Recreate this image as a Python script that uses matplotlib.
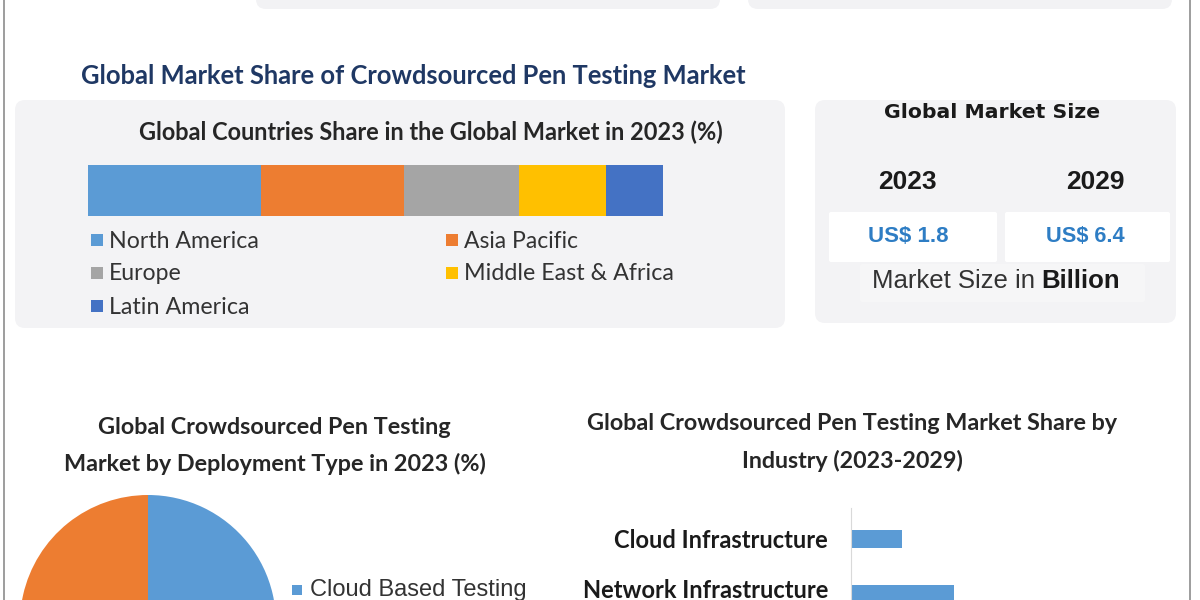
import matplotlib
matplotlib.use("Agg")
import matplotlib.pyplot as plt
import matplotlib.transforms as mtrans
from matplotlib.patches import FancyBboxPatch, Rectangle

W, H = 1200, 600

# data
regions = ["North America", "Asia Pacific", "Europe", "Middle East & Africa", "Latin America"]
region_share = [30, 25, 20, 15, 10]
region_colors = ["#5b9bd5", "#ed7d31", "#a5a5a5", "#ffc000", "#4472c4"]

years = ["2023", "2029"]
market_size = [1.8, 6.4]

deploy_types = ["Cloud Based Testing", "On-Premise Testing"]
deploy_share = [57, 43]
deploy_colors = ["#5b9bd5", "#ed7d31"]

industries = ["Cloud Infrastructure", "Network Infrastructure"]
industry_share = [5, 10]

calib = ["Lato", "DejaVu Sans"]
arial = ["Liberation Sans", "DejaVu Sans"]

fig = plt.figure(figsize=(12, 6), dpi=100)
fig.patch.set_facecolor("white")
ax = fig.add_axes([0, 0, 1, 1])
ax.set_xlim(0, W)
ax.set_ylim(H, 0)
ax.axis("off")
renderer = fig.canvas.get_renderer()


def px_axes(x0, y0, x1, y1):
    return fig.add_axes([x0 / W, 1 - y1 / H, (x1 - x0) / W, (y1 - y0) / H])


def put(x0, x1, cy, s, size=14, family=calib, weight="bold", color="#262626", ha="center"):
    x = (x0 + x1) / 2 if ha == "center" else x0
    t = ax.text(x, cy, s, fontsize=size, family=family, weight=weight, color=color,
                ha=ha, va="center")
    bb = t.get_window_extent(renderer)
    t.set_fontsize(size * (x1 - x0) / bb.width)
    return t


def box(x0, y0, x1, y1, fc, r=10):
    ax.add_patch(FancyBboxPatch((x0, y0), x1 - x0, y1 - y0,
                                boxstyle="round,pad=0,rounding_size=%d" % r,
                                fc=fc, ec="none", zorder=0))


# frame lines and clipped boxes at top
ax.plot([4, 4], [0, H], color="#8c8c8c", lw=1.2)
ax.plot([1190, 1190], [0, H], color="#8c8c8c", lw=1.2)
box(256, -20, 720, 9, "#f2f2f4")
box(748, -20, 1172, 9, "#f2f2f4")

# main title
put(78, 748, 76, "Global Market Share of Crowdsourced Pen Testing Market", color="#1f3864")

# left panel: regions
box(15, 100, 785, 328, "#f3f3f5")
put(136, 725, 132, "Global Countries Share in the Global Market in 2023 (%)")

bar_ax = px_axes(88, 165, 663, 216)
left = 0
for v, c in zip(region_share, region_colors):
    bar_ax.barh(0, v, left=left, height=1, color=c, edgecolor="none")
    left += v
bar_ax.set_xlim(0, sum(region_share))
bar_ax.set_ylim(-0.5, 0.5)
bar_ax.axis("off")

leg_pos = [(109, 259, 240), (464, 579, 240), (109, 182, 273), (464, 674, 273), (109, 250, 306)]
for name, c, (x0, x1, cy) in zip(regions, region_colors, leg_pos):
    ax.add_patch(Rectangle((x0 - 18, cy - 6), 12, 12, fc=c, ec="none"))
    put(x0, x1, cy + 1, name, weight="normal", color="#333333", ha="left")

# right panel: market size
box(815, 100, 1176, 323, "#f3f3f5")
put(884, 1100, 113, "Global Market Size", family=["DejaVu Sans"], color="#1a1a1a")
box(829, 212, 997, 262, "white", r=2)
box(1005, 212, 1170, 262, "white", r=2)
box(860, 264, 1145, 302, "#f6f6f7", r=2)
year_x = [907, 1095]
val_pos = [(868, 949), (1046, 1125)]
for y, v, x, (c, d) in zip(years, market_size, year_x, val_pos):
    ax.text(x, 182, y, fontsize=19, family=arial, weight="bold", color="#1a1a1a",
            ha="center", va="center")
    put(c, d, 236, "US$ %.1f" % v, family=arial, color="#2e7dc4")
t1 = ax.text(872, 281, "Market Size in", fontsize=18.5, family=arial, color="#333333",
             ha="left", va="center")
bb = t1.get_window_extent(renderer).transformed(ax.transData.inverted())
ax.text(bb.x1 + 6, 281, "Billion", fontsize=18.5, family=arial, weight="bold",
        color="#1a1a1a", ha="left", va="center")

# bottom left: pie by deployment type
put(97, 452, 427, "Global Crowdsourced Pen Testing")
put(62, 487, 464, "Market by Deployment Type in 2023 (%)")
pie_ax = px_axes(20, 495, 276, 751)
pie_ax.pie(deploy_share, colors=deploy_colors, startangle=90, counterclock=False,
           radius=1, wedgeprops=dict(linewidth=0))
pie_ax.set_xlim(-1, 1)
pie_ax.set_ylim(-1, 1)
pie_ax.set_aspect("equal")
pie_ax.axis("off")
ax.add_patch(Rectangle((292, 585), 10, 10, fc=deploy_colors[0], ec="none"))
put(310, 528, 590, deploy_types[0], family=arial, weight="normal", color="#333333", ha="left")

# bottom right: industry bars
put(584, 1120, 423, "Global Crowdsourced Pen Testing Market Share by")
put(741, 963, 461, "Industry (2023-2029)")
ind_ax = px_axes(851, 508, 1160, 650)
ypos = list(range(len(industries)))
ind_ax.barh(ypos, industry_share, height=18 / 55, color="#5b9bd5", edgecolor="none")
ind_ax.set_xlim(0, 30)
ind_ax.set_ylim((650 - 539) / 55, (508 - 539) / 55)
for s in ["top", "right", "bottom"]:
    ind_ax.spines[s].set_visible(False)
ind_ax.spines["left"].set_color("#d9d9d9")
ind_ax.set_xticks([])
ind_ax.set_yticks([])
lab_tr = ind_ax.get_yaxis_transform()
for i, name in enumerate(industries):
    lift = 4 if i == len(industries) - 1 else -1
    off = mtrans.ScaledTranslation(-23 / 100, lift / 100, fig.dpi_scale_trans)
    ind_ax.text(0, i, name, transform=lab_tr + off, fontsize=17, family=calib,
                weight="bold", color="#1a1a1a", ha="right", va="center", clip_on=False)
ind_ax.patch.set_alpha(0)

fig.savefig("out.png", dpi=100)
